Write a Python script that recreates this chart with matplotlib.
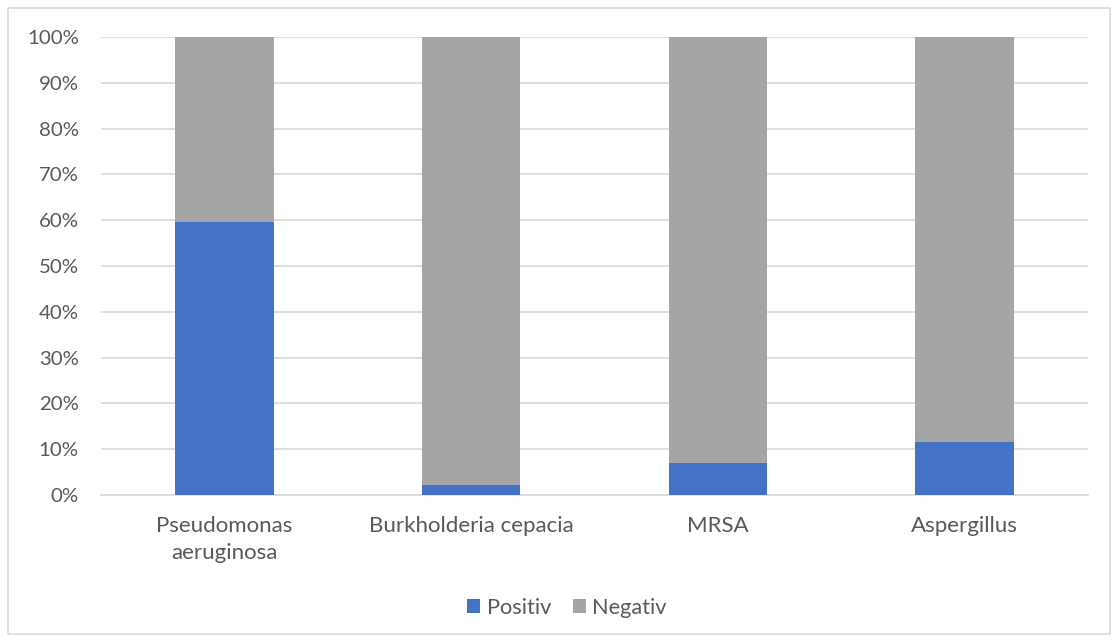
import matplotlib
matplotlib.use("Agg")
import matplotlib.pyplot as plt
from matplotlib.patches import Rectangle
from matplotlib.ticker import PercentFormatter

categories = ["Pseudomonas\naeruginosa", "Burkholderia cepacia", "MRSA", "Aspergillus"]
positiv = [59.5, 2.1, 7.0, 11.6]
negativ = [100 - v for v in positiv]

blue = "#4472C4"
grey = "#A5A5A5"
text_col = "#595959"
grid_col = "#D9D9D9"

plt.rcParams["font.family"] = ["Lato", "DejaVu Sans"]

fig = plt.figure(figsize=(11.16, 6.42), dpi=100)
ax = fig.add_axes([101 / 1116, 1 - 495 / 642, (1088 - 101) / 1116, (495 - 37) / 642])

x = range(len(categories))
ax.bar(x, positiv, width=0.4, color=blue, label="Positiv", zorder=3)
ax.bar(x, negativ, width=0.4, bottom=positiv, color=grey, label="Negativ", zorder=3)

ax.set_xlim(-0.5, len(categories) - 0.5)
ax.set_ylim(0, 100)
ax.set_yticks(range(0, 101, 10))
ax.yaxis.set_major_formatter(PercentFormatter(decimals=0))
ax.set_xticks(list(x))
ax.set_xticklabels(categories, linespacing=1.45)
ax.grid(axis="y", color=grid_col, linewidth=1.2, zorder=0)
ax.tick_params(axis="both", length=0, colors=text_col)
ax.tick_params(axis="y", labelsize=14.7, pad=16)
ax.tick_params(axis="x", labelsize=16, pad=15)
for side in ["top", "right", "left"]:
    ax.spines[side].set_visible(False)
ax.spines["bottom"].set_color(grid_col)
ax.spines["bottom"].set_linewidth(1.2)

leg = fig.legend(loc="center", bbox_to_anchor=(567 / 1116, 1 - 608 / 642), ncol=2,
                 frameon=False, fontsize=15.7, handlelength=0.6, handleheight=0.6,
                 handletextpad=0.3, columnspacing=1.0)
for t in leg.get_texts():
    t.set_color(text_col)

fig.patches.append(Rectangle((8 / 1116, 8 / 642), (1110 - 8) / 1116, (634 - 8) / 642,
                             transform=fig.transFigure, fill=False,
                             edgecolor=grid_col, linewidth=1.2))

fig.savefig("out.png", dpi=100)
